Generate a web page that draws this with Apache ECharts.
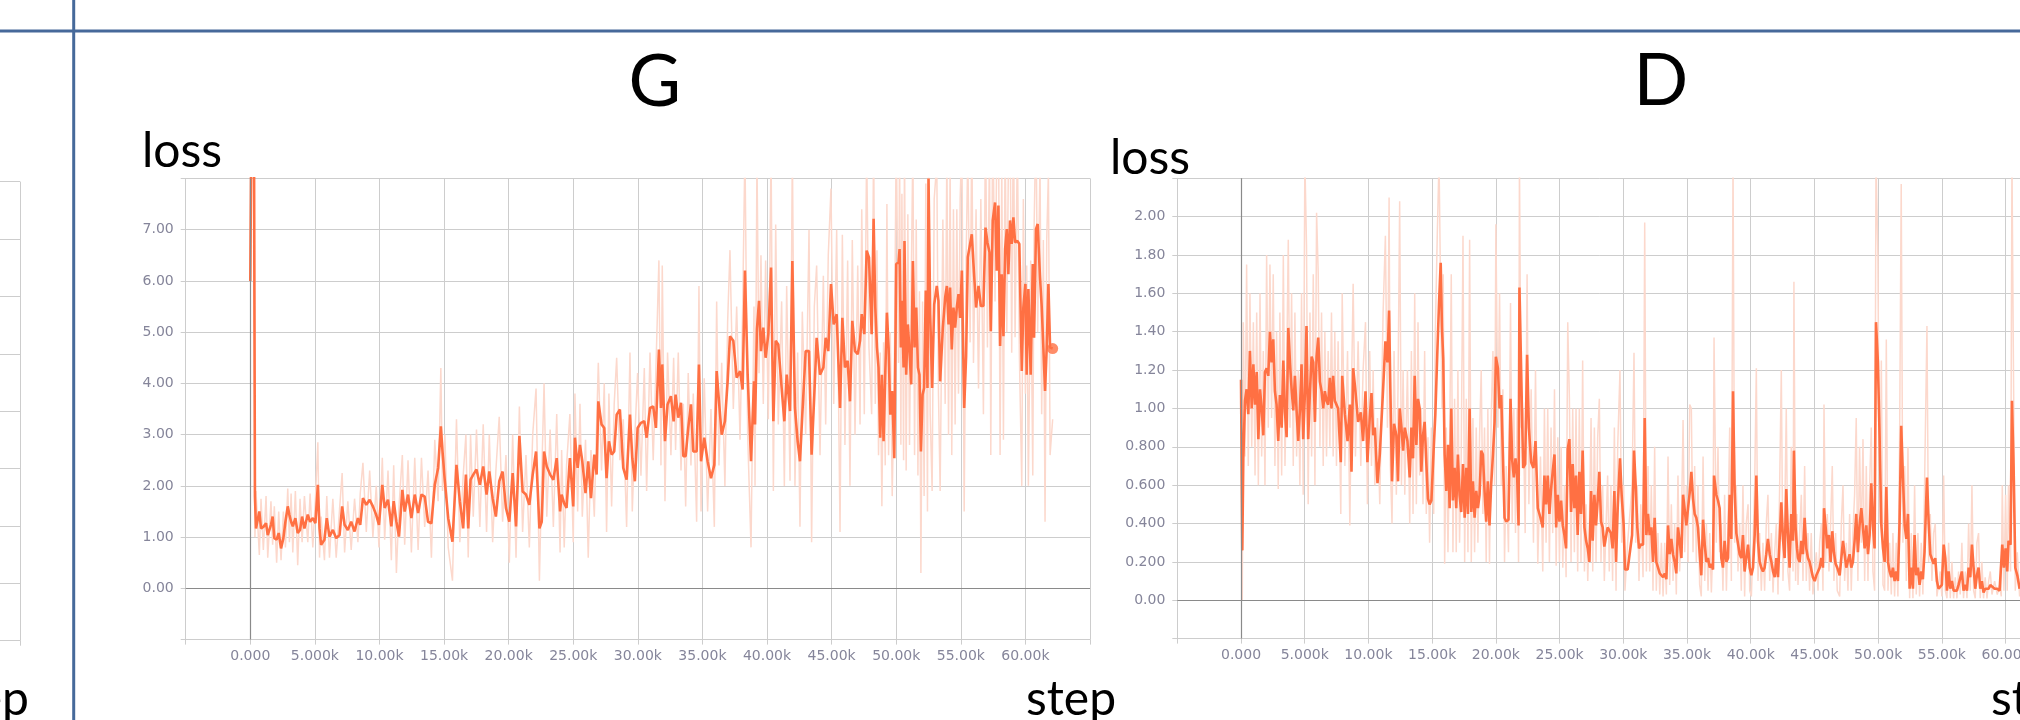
<!DOCTYPE html>
<html>
<head>
<meta charset="utf-8">
<title>G / D loss</title>
<script src="https://cdn.jsdelivr.net/npm/echarts@6/dist/echarts.min.js"></script>
<style>
  html, body { margin: 0; padding: 0; background: #fff; }
  #chart { width: 2020px; height: 720px; }
</style>
</head>
<body>
<div id="chart"></div>
<script>
// G loss: training step, smoothed value, raw value
const gStep = [
  0, 100, 280, 360, 440, 700, 830, 1010, 1220, 1350,
  1600, 1730, 1860, 2040, 2200, 2380, 2560, 2720, 2900, 3030,
  3160, 3290, 3490, 3670, 3850, 4010, 4190, 4450, 4630, 4840,
  5040, 5230, 5360, 5480, 5740, 5920, 6130, 6390, 6650, 6910,
  7110, 7300, 7550, 7810, 8070, 8330, 8510, 8720, 8980, 9240,
  9490, 9750, 9960, 10220, 10400, 10660, 10920, 11100, 11310, 11510,
  11770, 11950, 12210, 12470, 12730, 12990, 13250, 13500, 13760, 14020,
  14280, 14540, 14750, 14880, 15060, 15320, 15650, 15960, 16220, 16480,
  16690, 16870, 17050, 17260, 17510, 17770, 18030, 18290, 18500, 18760,
  19010, 19270, 19530, 19790, 20050, 20310, 20570, 20830, 21080, 21340,
  21600, 21860, 22120, 22380, 22560, 22740, 22950, 23210, 23460, 23720,
  23980, 24100, 24300, 24480, 24740, 25000, 25130, 25340, 25520, 25700,
  25950, 26160, 26370, 26630, 26810, 26940, 27190, 27400, 27580, 27760,
  27970, 28170, 28360, 28610, 28870, 29130, 29390, 29570, 29770, 29980,
  30240, 30500, 30680, 30940, 31190, 31400, 31630, 31790, 31890, 32100,
  32300, 32560, 32770, 32920, 33130, 33340, 33520, 33700, 33900, 34110,
  34290, 34550, 34730, 34890, 35140, 35400, 35660, 35920, 36100, 36280,
  36490, 36740, 36950, 37130, 37390, 37650, 37910, 38110, 38290, 38500,
  38760, 38990, 39070, 39220, 39380, 39530, 39710, 39890, 40100, 40310,
  40490, 40670, 40870, 41130, 41340, 41520, 41780, 41960, 42160, 42370,
  42550, 42730, 42990, 43250, 43450, 43660, 43840, 44100, 44360, 44540,
  44740, 44950, 45160, 45390, 45650, 45830, 46030, 46240, 46420, 46600,
  46810, 47020, 47200, 47330, 47530, 47710, 47890, 48100, 48250, 48380,
  48510, 48630, 48760, 48890, 49020, 49150, 49280, 49410, 49540, 49690,
  49850, 50000, 50180, 50260, 50360, 50440, 50570, 50640, 50770, 50900,
  51030, 51160, 51290, 51420, 51550, 51680, 51800, 51910, 52040, 52160,
  52290, 52420, 52500, 52630, 52780, 52940, 53140, 53270, 53400, 53610,
  53790, 53920, 54050, 54170, 54300, 54430, 54560, 54690, 54820, 54950,
  55080, 55260, 55410, 55540, 55720, 55850, 55980, 56180, 56370, 56550,
  56750, 56910, 57060, 57220, 57320, 57470, 57650, 57780, 57910, 58040,
  58170, 58300, 58430, 58560, 58680, 58810, 58940, 59070, 59200, 59380,
  59530, 59720, 59840, 60000, 60100, 60230, 60410, 60570, 60670, 60820,
  60950, 61130, 61260, 61390, 61520, 61650, 61780, 61910, 62110
];
const gSmooth = [
  6.0, 9.6, 9.4, 1.8, 1.17, 1.50, 1.17, 1.20, 1.27, 1.04,
  1.24, 1.40, 0.98, 0.95, 1.08, 0.78, 0.98, 1.30, 1.60, 1.43,
  1.30, 1.21, 1.37, 1.08, 1.14, 1.40, 1.17, 1.44, 1.30, 1.37,
  1.27, 2.02, 1.17, 0.85, 0.95, 1.37, 1.01, 1.14, 0.98, 1.04,
  1.60, 1.24, 1.14, 1.30, 1.11, 1.37, 1.24, 1.76, 1.63, 1.73,
  1.60, 1.43, 1.24, 2.02, 1.57, 1.73, 1.21, 1.70, 1.30, 1.01,
  1.92, 1.50, 1.83, 1.37, 1.83, 1.47, 1.83, 1.79, 1.30, 1.27,
  2.02, 2.35, 3.16, 2.67, 2.09, 1.37, 0.91, 2.41, 1.70, 1.17,
  2.22, 1.17, 2.12, 2.22, 2.32, 2.02, 2.38, 1.83, 2.28, 1.76,
  1.40, 2.09, 2.28, 1.57, 1.30, 2.25, 1.21, 2.97, 1.89, 1.83,
  1.63, 2.22, 2.67, 1.17, 1.30, 2.67, 2.38, 2.22, 2.12, 2.54,
  1.50, 1.83, 1.66, 1.57, 2.54, 1.60, 2.94, 2.35, 2.80, 2.48,
  1.86, 2.48, 1.76, 2.61, 2.22, 3.65, 3.20, 3.13, 2.15, 2.87,
  2.61, 2.67, 3.39, 3.49, 2.35, 2.12, 3.39, 2.54, 2.09, 3.13,
  3.23, 3.26, 2.94, 3.52, 3.55, 3.13, 4.66, 3.52, 4.37, 2.87,
  3.59, 3.75, 3.26, 3.78, 3.33, 3.62, 2.58, 2.58, 3.13, 3.59,
  2.67, 2.67, 4.37, 2.48, 2.94, 2.48, 2.15, 2.41, 4.24, 3.65,
  3.00, 3.26, 4.04, 4.92, 4.83, 4.11, 4.24, 3.88, 6.20, 4.17,
  2.48, 4.04, 3.20, 5.06, 5.61, 4.63, 5.09, 4.50, 4.96, 6.26,
  3.26, 4.83, 4.76, 3.91, 3.26, 4.17, 3.46, 6.39, 3.52, 2.87,
  2.48, 3.39, 4.63, 4.63, 2.61, 3.78, 4.89, 4.17, 4.31, 4.89,
  4.63, 5.94, 5.15, 5.35, 3.52, 5.28, 4.31, 4.44, 3.65, 5.22,
  4.63, 4.57, 4.83, 5.35, 4.96, 6.59, 6.46, 4.96, 7.21, 5.48,
  4.70, 4.31, 2.94, 4.17, 2.87, 4.17, 5.38, 4.70, 3.39, 3.85,
  2.54, 6.33, 6.36, 6.62, 4.70, 5.61, 4.31, 6.78, 4.17, 5.15,
  4.63, 3.98, 6.39, 4.70, 5.48, 4.31, 4.17, 2.67, 3.78, 3.91,
  5.81, 3.91, 8.0, 5.35, 3.91, 5.54, 5.90, 5.61, 4.04, 5.09,
  5.68, 5.90, 5.15, 5.87, 4.66, 5.48, 5.09, 5.48, 5.74, 5.28,
  6.20, 3.52, 4.53, 6.46, 6.72, 6.91, 6.33, 5.48, 5.90, 5.51,
  5.51, 7.04, 6.75, 6.56, 5.02, 7.18, 7.53, 6.20, 7.47, 4.73,
  6.13, 4.92, 6.62, 7.01, 6.13, 7.18, 6.72, 7.24, 6.75, 6.78,
  6.72, 4.24, 5.48, 5.94, 4.17, 5.84, 4.17, 6.33, 4.89, 7.01,
  7.11, 6.07, 5.51, 4.70, 3.85, 4.70, 5.94, 4.70, 4.68
];
const gRaw = [
  6.0, 10.5, 10.2, 1.0, 1.9, 0.65, 1.75, 0.75, 1.8, 0.6,
  1.7, 0.85, 1.6, 0.5, 1.5, 0.55, 1.5, 0.8, 1.95, 0.9,
  1.85, 0.7, 1.9, 0.45, 1.75, 0.9, 1.8, 0.9, 1.85, 0.8,
  1.75, 2.85, 0.6, 1.4, 0.55, 1.8, 0.6, 1.75, 0.6, 1.55,
  2.25, 0.7, 1.7, 0.75, 1.75, 0.9, 1.85, 2.45, 1.1, 2.3,
  1.0, 2.0, 0.8, 2.55, 0.95, 2.3, 0.55, 2.4, 0.3, 1.6,
  2.6, 0.85, 2.5, 0.7, 2.55, 0.75, 2.55, 1.2, 2.3, 0.6,
  2.9, 1.7, 4.3, 1.9, 3.0, 0.8, 0.15, 3.3, 0.9, 2.2,
  3.0, 0.6, 3.0, 1.4, 3.1, 1.2, 3.2, 1.1, 3.0, 0.9,
  2.3, 3.35, 1.3, 2.6, 0.5, 3.0, 0.6, 3.55, 1.1, 2.6,
  0.8, 3.0, 3.9, 0.15, 2.2, 4.0, 1.4, 3.1, 1.2, 3.4,
  0.7, 2.7, 0.8, 2.4, 3.4, 0.9, 3.8, 1.5, 3.6, 1.4,
  2.9, 0.6, 2.7, 1.4, 3.2, 4.4, 2.3, 4.0, 1.1, 3.8,
  1.6, 3.6, 4.5, 2.5, 3.3, 1.2, 4.6, 1.5, 3.0, 4.2,
  2.2, 4.3, 1.9, 4.6, 2.5, 4.3, 6.4, 2.4, 6.3, 1.7,
  4.6, 2.6, 4.5, 2.7, 4.6, 2.3, 3.6, 1.6, 4.2, 2.4,
  3.8, 1.3, 5.9, 1.5, 4.1, 1.5, 3.5, 1.2, 5.6, 2.4,
  4.4, 2.0, 5.2, 6.6, 3.5, 5.5, 2.9, 5.4, 8.6, 3.0,
  0.8, 5.5, 2.0, 8.4, 4.2, 6.5, 3.6, 6.4, 3.3, 8.6,
  1.9, 7.1, 3.2, 5.6, 2.0, 5.9, 2.1, 8.6, 2.0, 4.6,
  1.2, 5.4, 3.0, 7.0, 0.9, 5.5, 6.3, 2.6, 6.1, 3.2,
  6.5, 7.8, 3.6, 7.0, 1.1, 6.9, 2.8, 6.4, 2.0, 6.8,
  3.0, 6.3, 3.2, 7.4, 3.4, 8.6, 4.7, 3.4, 8.8, 3.6,
  6.6, 2.6, 4.6, 1.6, 4.8, 2.4, 7.5, 2.6, 5.0, 1.8,
  4.2, 8.9, 4.4, 8.6, 2.8, 7.7, 2.5, 8.8, 2.3, 7.3,
  2.8, 5.9, 8.7, 2.6, 7.2, 2.2, 5.8, 0.3, 5.6, 1.8,
  7.9, 1.5, 9.5, 3.4, 1.9, 7.6, 8.3, 3.8, 1.9, 7.2,
  3.6, 8.6, 3.0, 8.2, 2.6, 7.4, 3.2, 7.4, 3.8, 7.6,
  8.8, 1.5, 6.4, 8.5, 4.8, 9.0, 4.4, 7.4, 3.9, 7.6,
  3.4, 9.2, 4.7, 8.6, 2.6, 9.3, 5.6, 8.4, 9.5, 2.6,
  8.2, 2.9, 8.8, 5.0, 8.2, 9.3, 4.6, 9.4, 4.9, 8.7,
  4.6, 2.0, 7.6, 3.8, 6.3, 2.0, 6.4, 2.2, 7.0, 9.2,
  5.0, 8.3, 3.4, 6.8, 1.3, 6.8, 8.1, 2.6, 3.3
];

// D loss: training step, smoothed value, raw value
const dStep = [
  0, 100, 180, 310, 440, 570, 700, 840, 970, 1100,
  1230, 1360, 1490, 1620, 1750, 1880, 2010, 2140, 2270, 2400,
  2530, 2660, 2790, 2920, 3050, 3190, 3320, 3450, 3580, 3710,
  3840, 3970, 4100, 4230, 4360, 4490, 4620, 4750, 4880, 5010,
  5140, 5270, 5410, 5540, 5670, 5800, 5930, 6060, 6190, 6320,
  6450, 6580, 6710, 6840, 6970, 7100, 7230, 7360, 7490, 7620,
  7830, 7940, 8150, 8360, 8540, 8670, 8800, 8980, 9190, 9400,
  9580, 9770, 9920, 10100, 10240, 10370, 10500, 10710, 10890, 11150,
  11330, 11490, 11620, 11720, 11850, 12010, 12190, 12320, 12450, 12590,
  12720, 12850, 13060, 13240, 13370, 13500, 13630, 13760, 13890, 14020,
  14150, 14280, 14410, 14540, 14670, 14800, 14940, 15120, 15250, 15400,
  15540, 15670, 15770, 15870, 15980, 16110, 16240, 16370, 16500, 16630,
  16760, 16890, 17020, 17150, 17280, 17420, 17550, 17680, 17810, 17940,
  18070, 18200, 18330, 18460, 18590, 18720, 18850, 18980, 19110, 19240,
  19370, 19500, 19630, 19770, 19900, 20000, 20160, 20290, 20420, 20550,
  20680, 20810, 20990, 21150, 21280, 21410, 21540, 21670, 21780, 21850,
  21980, 22140, 22300, 22450, 22590, 22770, 22950, 23110, 23290, 23500,
  23680, 23810, 23940, 24070, 24200, 24330, 24460, 24600, 24730, 24860,
  24990, 25120, 25250, 25380, 25510, 25640, 25770, 25900, 26030, 26160,
  26290, 26420, 26550, 26680, 26810, 26950, 27080, 27210, 27340, 27470,
  27600, 27730, 27860, 27990, 28120, 28250, 28380, 28510, 28770, 28900,
  29030, 29160, 29300, 29430, 29560, 29740, 29870, 30030, 30130, 30340,
  30690, 30840, 30970, 31100, 31230, 31370, 31550, 31680, 31810, 31940,
  32070, 32200, 32330, 32460, 32590, 32720, 32860, 32990, 33120, 33250,
  33380, 33510, 33640, 33770, 33900, 34030, 34160, 34290, 34420, 34560,
  34690, 34820, 34950, 35080, 35210, 35340, 35470, 35600, 35730, 35860,
  35990, 36120, 36260, 36390, 36520, 36650, 36780, 36910, 37040, 37120,
  37300, 37430, 37560, 37690, 37820, 37950, 38090, 38220, 38350, 38480,
  38610, 38740, 38870, 39000, 39130, 39260, 39390, 39520, 39650, 39790,
  39920, 40050, 40180, 40310, 40440, 40570, 40700, 40830, 40960, 41090,
  41220, 41350, 41490, 41620, 41750, 41880, 42010, 42140, 42270, 42400,
  42530, 42660, 42790, 42920, 43050, 43180, 43320, 43390, 43520, 43630,
  43710, 43840, 43970, 44100, 44230, 44360, 44490, 44620, 44750, 44880,
  45020, 45150, 45280, 45410, 45540, 45670, 45750, 45880, 46010, 46140,
  46270, 46400, 46530, 46660, 46790, 46980, 47110, 47240, 47370, 47500,
  47630, 47760, 47890, 48020, 48150, 48280, 48410, 48540, 48680, 48810,
  48940, 49070, 49200, 49330, 49460, 49590, 49720, 49830, 49980, 50110,
  50250, 50380, 50510, 50640, 50770, 50900, 51030, 51160, 51290, 51420,
  51550, 51680, 51810, 51940, 52080, 52210, 52340, 52470, 52600, 52730,
  52860, 52990, 53120, 53250, 53380, 53510, 53640, 53830, 53960, 54090,
  54220, 54350, 54480, 54610, 54740, 54870, 55000, 55140, 55270, 55400,
  55530, 55660, 55790, 55920, 56050, 56180, 56310, 56440, 56570, 56700,
  56840, 56970, 57100, 57230, 57360, 57490, 57620, 57750, 57880, 58010,
  58140, 58270, 58400, 58540, 58670, 58800, 58930, 59140, 59350, 59530,
  59660, 59740, 59870, 60000, 60130, 60230, 60390, 60500, 60630, 60760,
  60920, 61100
];
const dSmooth = [
  1.15, 0.26, 0.74, 1.04, 1.10, 0.97, 1.30, 1.00, 1.23, 1.02,
  1.19, 0.84, 1.10, 1.00, 0.86, 1.19, 1.21, 1.17, 1.40, 1.24,
  1.36, 1.09, 1.02, 0.83, 1.07, 0.90, 1.25, 0.98, 0.85, 1.42,
  1.24, 1.10, 0.99, 1.17, 0.99, 0.83, 0.99, 1.23, 0.84, 1.07,
  1.43, 0.84, 1.09, 1.27, 1.24, 0.93, 1.27, 1.37, 1.14, 1.09,
  1.00, 1.09, 1.04, 1.02, 1.16, 1.00, 1.17, 1.04, 1.02, 1.00,
  0.72, 1.17, 0.97, 0.83, 1.02, 0.67, 1.21, 1.09, 0.93, 0.98,
  0.83, 1.09, 0.72, 0.95, 1.08, 0.86, 0.90, 0.61, 0.76, 1.10,
  1.35, 1.24, 1.51, 1.10, 0.62, 0.92, 0.86, 0.62, 1.00, 0.90,
  0.78, 0.90, 0.83, 0.64, 0.90, 0.74, 1.17, 0.81, 1.05, 1.00,
  0.67, 0.86, 0.93, 0.72, 0.53, 0.50, 0.52, 0.79, 0.97, 1.28,
  1.55, 1.76, 1.42, 1.26, 0.76, 0.57, 0.81, 0.48, 1.00, 0.52,
  0.69, 0.48, 0.76, 0.55, 0.46, 0.71, 0.43, 0.69, 0.45, 1.00,
  0.46, 0.62, 0.43, 0.57, 0.48, 0.55, 0.78, 0.76, 0.57, 0.41,
  0.62, 0.39, 0.60, 0.76, 0.93, 1.27, 1.21, 1.00, 1.07, 0.76,
  0.43, 0.41, 0.42, 1.05, 0.73, 0.64, 0.74, 0.65, 0.39, 1.63,
  1.21, 0.69, 0.71, 1.28, 0.90, 0.72, 0.69, 0.83, 0.48, 0.43,
  0.38, 0.65, 0.50, 0.65, 0.45, 0.58, 0.67, 0.76, 0.38, 0.55,
  0.41, 0.52, 0.39, 0.34, 0.27, 0.79, 0.84, 0.46, 0.71, 0.48,
  0.65, 0.34, 0.67, 0.45, 0.78, 0.38, 0.31, 0.27, 0.20, 0.57,
  0.31, 0.55, 0.39, 0.52, 0.67, 0.41, 0.38, 0.28, 0.38, 0.38,
  0.35, 0.27, 0.57, 0.20, 0.48, 0.74, 0.55, 0.39, 0.16, 0.16,
  0.34, 0.78, 0.60, 0.38, 0.27, 0.29, 0.29, 0.95, 0.34, 0.45,
  0.34, 0.38, 0.20, 0.43, 0.20, 0.20, 0.14, 0.13, 0.12, 0.14,
  0.11, 0.39, 0.24, 0.32, 0.24, 0.20, 0.14, 0.38, 0.31, 0.22,
  0.55, 0.56, 0.39, 0.48, 0.56, 0.67, 0.53, 0.45, 0.43, 0.38,
  0.25, 0.13, 0.42, 0.29, 0.20, 0.22, 0.17, 0.19, 0.16, 0.65,
  0.55, 0.52, 0.48, 0.22, 0.17, 0.31, 0.20, 0.22, 0.55, 0.32,
  1.09, 0.57, 0.35, 0.34, 0.24, 0.22, 0.34, 0.15, 0.22, 0.29,
  0.17, 0.13, 0.17, 0.34, 0.65, 0.31, 0.20, 0.17, 0.15, 0.17,
  0.24, 0.32, 0.24, 0.20, 0.15, 0.12, 0.22, 0.12, 0.32, 0.51,
  0.32, 0.22, 0.58, 0.34, 0.17, 0.45, 0.31, 0.78, 0.38, 0.27,
  0.22, 0.20, 0.31, 0.24, 0.43, 0.27, 0.22, 0.20, 0.20, 0.12,
  0.10, 0.13, 0.15, 0.17, 0.22, 0.17, 0.48, 0.38, 0.27, 0.34,
  0.20, 0.36, 0.25, 0.19, 0.17, 0.13, 0.22, 0.31, 0.24, 0.17,
  0.18, 0.24, 0.17, 0.20, 0.31, 0.45, 0.25, 0.39, 0.48, 0.48,
  0.27, 0.39, 0.24, 0.34, 0.61, 0.39, 0.27, 1.45, 1.24, 0.86,
  0.39, 0.27, 0.20, 0.59, 0.20, 0.15, 0.12, 0.17, 0.10, 0.15,
  0.10, 0.41, 0.91, 0.65, 0.39, 0.32, 0.45, 0.06, 0.17, 0.06,
  0.34, 0.13, 0.17, 0.08, 0.15, 0.11, 0.25, 0.64, 0.41, 0.24,
  0.25, 0.19, 0.22, 0.10, 0.06, 0.06, 0.08, 0.29, 0.22, 0.05,
  0.15, 0.06, 0.10, 0.05, 0.06, 0.05, 0.08, 0.08, 0.15, 0.05,
  0.08, 0.05, 0.17, 0.12, 0.29, 0.17, 0.06, 0.13, 0.17, 0.06,
  0.10, 0.04, 0.06, 0.05, 0.06, 0.08, 0.07, 0.06, 0.06, 0.05,
  0.06, 0.29, 0.17, 0.27, 0.15, 0.31, 0.29, 1.04, 0.69, 0.17,
  0.13, 0.06
];
const dRaw = [
  1.15, 0.0, 1.45, 0.75, 1.75, 0.7, 1.6, 0.8, 1.45, 0.65,
  1.5, 0.6, 1.6, 0.75, 1.3, 0.6, 1.8, 0.9, 1.75, 0.95,
  1.7, 0.7, 1.4, 0.58, 1.5, 0.65, 1.8, 0.7, 1.2, 1.88,
  0.9, 1.6, 0.7, 1.5, 0.75, 1.2, 0.6, 1.6, 0.55, 2.3,
  1.85, 0.5, 1.5, 0.75, 1.7, 0.6, 2.02, 1.7, 0.8, 1.5,
  0.7, 1.4, 0.75, 1.3, 0.8, 1.5, 0.75, 1.4, 0.7, 1.35,
  0.45, 1.6, 0.7, 1.3, 0.39, 1.1, 1.65, 0.75, 1.35, 0.7,
  1.2, 1.45, 0.5, 1.3, 0.7, 1.2, 0.6, 0.95, 0.5, 1.5,
  1.9, 0.9, 2.1, 0.7, 0.4, 1.3, 0.55, 1.1, 2.08, 0.6,
  1.2, 0.55, 1.2, 0.4, 1.3, 0.45, 1.6, 0.5, 1.45, 0.65,
  1.0, 0.5, 1.3, 0.45, 0.85, 0.3, 0.9, 0.45, 1.4, 1.9,
  2.3, 2.3, 1.0, 1.7, 0.19, 0.9, 0.25, 0.8, 1.7, 0.25,
  1.05, 0.25, 1.2, 0.3, 0.75, 1.9, 0.2, 1.05, 0.25, 1.88,
  0.2, 0.95, 0.25, 0.9, 0.3, 0.85, 1.2, 0.45, 0.9, 0.2,
  1.0, 0.19, 0.95, 1.3, 0.6, 1.96, 0.9, 1.6, 0.6, 1.1,
  0.2, 0.7, 0.25, 1.55, 0.4, 1.0, 0.35, 1.0, 0.2, 2.3,
  0.9, 1.0, 0.35, 1.7, 0.5, 1.1, 0.3, 1.2, 0.19, 0.75,
  0.15, 1.0, 0.3, 1.0, 0.2, 0.9, 0.35, 1.1, 0.18, 0.85,
  0.2, 0.8, 0.17, 0.6, 0.12, 1.45, 1.05, 0.2, 1.0, 0.25,
  1.0, 0.15, 1.0, 0.2, 1.25, 0.15, 0.5, 0.1, 0.4, 0.95,
  0.15, 0.9, 0.2, 0.85, 1.05, 0.2, 0.6, 0.1, 0.65, 0.15,
  0.6, 0.1, 0.9, 0.05, 0.8, 1.2, 0.3, 0.6, 0.05, 0.3,
  0.6, 1.29, 0.3, 0.6, 0.1, 0.5, 0.12, 1.97, 0.15, 0.7,
  0.15, 0.6, 0.05, 0.8, 0.05, 0.35, 0.03, 0.3, 0.02, 0.3,
  0.03, 0.75, 0.08, 0.5, 0.1, 0.4, 0.03, 0.65, 0.15, 0.4,
  0.94, 0.25, 0.6, 0.2, 1.02, 1.0, 0.25, 0.7, 0.2, 0.6,
  0.08, 0.02, 0.75, 0.1, 0.4, 0.05, 0.35, 0.04, 0.3, 1.37,
  0.3, 0.8, 0.25, 0.4, 0.05, 0.55, 0.05, 0.4, 0.9, 0.1,
  2.3, 0.3, 0.6, 0.15, 0.4, 0.05, 0.6, 0.02, 0.4, 0.5,
  0.05, 0.02, 0.3, 0.6, 1.21, 0.1, 0.35, 0.05, 0.3, 0.05,
  0.4, 0.55, 0.1, 0.35, 0.04, 0.25, 0.4, 0.03, 0.6, 1.2,
  0.1, 0.4, 1.0, 0.15, 0.05, 0.8, 0.15, 1.66, 0.1, 0.45,
  0.08, 0.35, 0.55, 0.1, 0.7, 0.1, 0.35, 0.05, 0.35, 0.03,
  0.02, 0.25, 0.05, 0.3, 0.4, 0.05, 1.02, 0.2, 0.45, 0.15,
  0.4, 0.7, 0.1, 0.35, 0.05, 0.02, 0.4, 0.6, 0.1, 0.3,
  0.05, 0.45, 0.05, 0.35, 0.55, 0.95, 0.1, 0.8, 0.3, 0.84,
  0.1, 0.7, 0.1, 0.6, 0.9, 0.15, 0.05, 2.3, 1.8, 0.4,
  1.25, 0.08, 0.05, 1.36, 0.05, 0.3, 0.03, 0.35, 0.02, 0.3,
  0.02, 0.8, 2.17, 0.3, 0.7, 0.1, 0.8, 0.01, 0.35, 0.01,
  0.6, 0.03, 0.35, 0.02, 0.3, 0.03, 0.6, 1.43, 0.2, 0.45,
  0.1, 0.35, 0.4, 0.02, 0.02, 0.15, 0.02, 0.65, 0.05, 0.01,
  0.3, 0.01, 0.2, 0.01, 0.12, 0.01, 0.15, 0.03, 0.3, 0.01,
  0.15, 0.01, 0.4, 0.05, 0.6, 0.05, 0.01, 0.3, 0.35, 0.01,
  0.2, 0.01, 0.12, 0.01, 0.1, 0.15, 0.03, 0.1, 0.03, 0.08,
  0.02, 0.6, 0.05, 0.55, 0.05, 0.6, 0.15, 2.3, 1.1, 0.05,
  0.25, 0.02
];

// axis ranges (TensorBoard style: one empty step above and below)
const stepRange = { min: -5000, max: 65000, interval: 5000, lastLabel: 60000 };
const gRange = { min: -1, max: 8, interval: 1 };
const dRange = { min: -0.2, max: 2.2, interval: 0.2 };
const prevRange = { min: 0, max: 8, interval: 1 };

const ORANGE = '#ff7043';
const RAW = '#fcd8cc';
const GRID = '#cdcdcd';
const ZERO = '#8a8a8a';
const BLUE = '#46699a';
const labelStyle = { color: '#85859a', fontFamily: 'DejaVu Sans', fontSize: 14 };

function pairs(xs, ys) {
  const n = Math.min(xs.length, ys.length);
  const out = [];
  for (let i = 0; i < n; i++) out.push([xs[i], ys[i]]);
  return out;
}

function stepLabel(v) {
  if (v < 0 || v > stepRange.lastLabel) return '';
  return v === 0 ? '0.000' : (v / 1000).toPrecision(4) + 'k';
}

function lossLabel(r) {
  return function (v) {
    if (v <= r.min + 1e-6 || v >= r.max - 1e-6) return '';
    if (Math.abs(v) < 1e-6) return '0.00';
    return v.toPrecision(3);
  };
}

function xAxisFor(gridIndex, showLabels) {
  return {
    type: 'value', gridIndex,
    min: stepRange.min, max: stepRange.max, interval: stepRange.interval,
    axisLine: { show: true, onZero: false, lineStyle: { color: GRID, width: 1 } },
    axisTick: { show: true, length: 5, lineStyle: { color: GRID } },
    axisLabel: Object.assign({ show: showLabels, margin: 10, formatter: stepLabel }, labelStyle),
    splitLine: { show: true, lineStyle: { color: GRID, width: 1 } }
  };
}

function yAxisFor(gridIndex, r, showLabels) {
  return {
    type: 'value', gridIndex,
    min: r.min, max: r.max, interval: r.interval,
    axisLine: { show: true, onZero: false, lineStyle: { color: GRID, width: 1 } },
    axisTick: { show: true, length: 5, lineStyle: { color: GRID } },
    axisLabel: Object.assign({ show: showLabels, margin: 12, formatter: lossLabel(r) }, labelStyle),
    splitLine: { show: true, lineStyle: { color: GRID, width: 1 } }
  };
}

function zeroLines() {
  return {
    silent: true,
    symbol: ['none', 'none'],
    label: { show: false },
    lineStyle: { color: ZERO, width: 1.2, type: 'solid' },
    emphasis: { disabled: true },
    data: [{ xAxis: 0 }, { yAxis: 0 }]
  };
}

function lossSeries(idx, steps, smooth, raw, withDot) {
  const list = [
    {
      type: 'line', xAxisIndex: idx, yAxisIndex: idx,
      data: pairs(steps, raw), symbol: 'none', z: 2,
      lineStyle: { color: RAW, width: 1.5 },
      markLine: zeroLines()
    },
    {
      type: 'line', xAxisIndex: idx, yAxisIndex: idx,
      data: pairs(steps, smooth), symbol: 'none', z: 3,
      lineStyle: { color: ORANGE, width: 2.6 }
    }
  ];
  if (withDot) {
    const last = steps.length - 1;
    list.push({
      type: 'scatter', xAxisIndex: idx, yAxisIndex: idx, z: 4,
      data: [[steps[last], smooth[last]]],
      symbolSize: 11, itemStyle: { color: ORANGE }
    });
  }
  return list;
}

function text(str, x, y, size, align) {
  return {
    type: 'text', x, y, silent: true,
    style: {
      text: str, fill: '#000', font: size + 'px Lato',
      align: align || 'left', textAlign: align || 'left',
      verticalAlign: 'middle', textVerticalAlign: 'middle'
    }
  };
}

const chart = echarts.init(document.getElementById('chart'), null, { renderer: 'canvas' });
chart.setOption({
  animation: false,
  backgroundColor: '#fff',
  grid: [
    { left: -880, top: 181.6, width: 900, height: 459.1, outerBoundsMode: 'none' },
    { left: 185.7, top: 178.4, width: 904.3, height: 461.2, outerBoundsMode: 'none' },
    { left: 1177.3, top: 178.3, width: 892, height: 460.3, outerBoundsMode: 'none' }
  ],
  xAxis: [xAxisFor(0, false), xAxisFor(1, true), xAxisFor(2, true)],
  yAxis: [yAxisFor(0, prevRange, false), yAxisFor(1, gRange, true), yAxisFor(2, dRange, true)],
  series: [].concat(
    lossSeries(1, gStep, gSmooth, gRaw, true),
    lossSeries(2, dStep, dSmooth, dRaw, false)
  ),
  graphic: [
    { type: 'line', silent: true, shape: { x1: 0, y1: 31, x2: 2020, y2: 31 }, style: { stroke: BLUE, lineWidth: 3 } },
    { type: 'line', silent: true, shape: { x1: 73.7, y1: 0, x2: 73.7, y2: 720 }, style: { stroke: BLUE, lineWidth: 3 } },
    text('G', 628.5, 83, 72),
    text('D', 1633.5, 82, 72),
    text('loss', 142, 152, 48),
    text('loss', 1110, 159, 48),
    text('step', 1026, 700, 48),
    text('step', 1991, 700, 48),
    text('step', 29, 700, 48, 'right')
  ]
});
</script>
</body>
</html>
